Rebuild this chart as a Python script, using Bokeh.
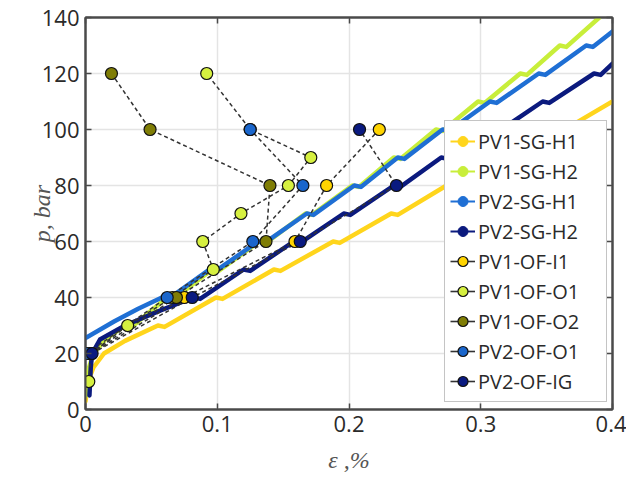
from bokeh.plotting import figure
from bokeh.models import LinearAxis, Range1d, FixedTicker, Legend, LegendItem
from bokeh.embed import file_html
from bokeh.resources import INLINE

# ---------------- data ----------------
X_TICKS = [0, 0.1, 0.2, 0.3, 0.4]
X_TICK_LABELS = ["0", "0.1", "0.2", "0.3", "0.4"]
Y_TICKS = [0, 20, 40, 60, 80, 100, 120, 140]

# strain-gauge curves (strain %, pressure bar)
pv1_sg_h1_strain = [0.000, 0.002, 0.006, 0.014, 0.030, 0.055, 0.060, 0.099, 0.104, 0.143, 0.148,
                    0.188, 0.193, 0.232, 0.237, 0.274, 0.279, 0.316, 0.321, 0.357, 0.362, 0.400]
pv1_sg_h1_p = [3, 10, 15, 20, 24.5, 30, 29.5, 40, 39.5, 50, 49.5,
               60, 59.5, 70, 69.5, 80, 79.5, 90, 89.5, 100, 99.5, 110]

pv1_sg_h2_strain = [0.001, 0.002, 0.006, 0.015, 0.030, 0.035, 0.062, 0.067, 0.096, 0.101, 0.132, 0.137,
                    0.167, 0.172, 0.2025, 0.2075, 0.234, 0.239, 0.266, 0.271, 0.298, 0.303, 0.330,
                    0.335, 0.360, 0.365, 0.390]
pv1_sg_h2_p = [5, 14, 20, 25, 30, 29.5, 40, 39.5, 50, 49.5, 60, 59.5,
               70, 69.5, 80, 79.5, 90, 89.5, 100, 99.5, 110, 109.5, 120,
               119.5, 130, 129.5, 140]

pv2_sg_h1_strain = [0.000, 0.022, 0.040, 0.058, 0.063, 0.094, 0.099, 0.131, 0.136, 0.168, 0.173,
                    0.204, 0.209, 0.237, 0.242, 0.271, 0.276, 0.307, 0.312, 0.344, 0.349,
                    0.380, 0.385, 0.400]
pv2_sg_h1_p = [25.5, 31.5, 36, 40, 39.5, 50, 49.5, 60, 59.5, 70, 69.5,
               80, 79.5, 90, 89.5, 100, 99.5, 110, 109.5, 120, 119.5,
               130, 129.5, 135]

pv2_sg_h2_strain = [0.003, 0.004, 0.005, 0.011, 0.030, 0.057, 0.082, 0.087, 0.120, 0.125, 0.158,
                    0.163, 0.196, 0.201, 0.234, 0.239, 0.270, 0.275, 0.309, 0.314, 0.347,
                    0.352, 0.386, 0.391, 0.400]
pv2_sg_h2_p = [5, 15, 20, 25, 30, 35.4, 40, 39.5, 50, 49.5, 60,
               59.5, 70, 69.5, 80, 79.5, 90, 89.5, 100, 99.5, 110,
               109.5, 120, 119.5, 123.5]

# optical-fibre points
pv1_of_i1_strain = [0.004, 0.075, 0.159, 0.183, 0.223]
pv1_of_i1_p = [20, 40, 60, 80, 100]

pv1_of_o1_strain = [0.0025, 0.004, 0.032, 0.066, 0.097, 0.089, 0.118, 0.154, 0.171, 0.125, 0.092]
pv1_of_o1_p = [10, 20, 30, 40, 50, 60, 70, 80, 90, 100, 120]

pv1_of_o2_strain = [0.003, 0.069, 0.137, 0.140, 0.049, 0.0197]
pv1_of_o2_p = [20, 40, 60, 80, 100, 120]

pv2_of_o1_strain = [0.001, 0.062, 0.127, 0.165, 0.125]
pv2_of_o1_p = [20, 40, 60, 80, 100]

pv2_of_ig_strain = [0.005, 0.081, 0.163, 0.236, 0.208]
pv2_of_ig_p = [20, 40, 60, 80, 100]

C_YELLOW = "#FFD51C"
C_LIME = "#C8EE3A"
C_BLUE = "#1F6FD4"
C_NAVY = "#0B1A7E"
C_OLIVE = "#7F7D05"

sg_series = [
    ("PV1-SG-H1", pv1_sg_h1_strain, pv1_sg_h1_p, C_YELLOW),
    ("PV1-SG-H2", pv1_sg_h2_strain, pv1_sg_h2_p, C_LIME),
    ("PV2-SG-H1", pv2_sg_h1_strain, pv2_sg_h1_p, C_BLUE),
    ("PV2-SG-H2", pv2_sg_h2_strain, pv2_sg_h2_p, C_NAVY),
]
of_series = [
    ("PV1-OF-I1", pv1_of_i1_strain, pv1_of_i1_p, "#FFD400"),
    ("PV1-OF-O1", pv1_of_o1_strain, pv1_of_o1_p, "#D6F040"),
    ("PV1-OF-O2", pv1_of_o2_strain, pv1_of_o2_p, C_OLIVE),
    ("PV2-OF-O1", pv2_of_o1_strain, pv2_of_o1_p, "#1A66CC"),
    ("PV2-OF-IG", pv2_of_ig_strain, pv2_of_ig_p, "#0A1A80"),
]

NAN = [float("nan")]

# ---------------- figure ----------------
p = figure(width=626, height=479, x_range=Range1d(0, 0.4), y_range=Range1d(0, 140),
           output_backend="svg", toolbar_location=None,
           min_border_left=85, min_border_right=14, min_border_top=17, min_border_bottom=70)
p.background_fill_color = "white"
p.border_fill_color = "white"
p.outline_line_color = "#4a4a4a"
p.outline_line_width = 2

FRAME = "#4a4a4a"
TICK_FONT = "Open Sans"

for ax in (p.xaxis[0], p.yaxis[0]):
    ax.axis_line_color = FRAME
    ax.axis_line_width = 2
    ax.major_tick_in = 6
    ax.major_tick_out = 0
    ax.major_tick_line_color = FRAME
    ax.major_tick_line_width = 1.5
    ax.minor_tick_line_color = None
    ax.major_label_text_font = TICK_FONT
    ax.major_label_text_font_size = "22px"
    ax.major_label_text_color = "#2a2a2a"
    ax.axis_label_text_font = "Liberation Serif"
    ax.axis_label_text_font_style = "italic"
    ax.axis_label_text_font_size = "24px"
    ax.axis_label_text_color = "#555555"

p.xaxis[0].ticker = FixedTicker(ticks=X_TICKS)
p.xaxis[0].major_label_overrides = dict(zip(X_TICKS, X_TICK_LABELS))
p.xaxis[0].major_label_standoff = 6
p.xaxis[0].axis_label = "ε ,%"
p.xaxis[0].axis_label_standoff = 12
p.yaxis[0].ticker = FixedTicker(ticks=Y_TICKS)
p.yaxis[0].major_label_standoff = 6
p.yaxis[0].axis_label = "p, bar"
p.yaxis[0].axis_label_standoff = -16

for loc, ticks in (("right", Y_TICKS), ("above", X_TICKS)):
    ax = LinearAxis(ticker=FixedTicker(ticks=ticks),
                    major_label_overrides={t: "" for t in ticks},
                    major_tick_in=6, major_tick_out=0, minor_tick_line_color=None,
                    major_tick_line_color=FRAME, major_tick_line_width=1.5,
                    axis_line_color=FRAME, axis_line_width=2, major_label_standoff=0)
    p.add_layout(ax, loc)

p.xgrid.ticker = FixedTicker(ticks=X_TICKS)
p.ygrid.ticker = FixedTicker(ticks=Y_TICKS)
p.grid.grid_line_color = "#e4e4e4"
p.grid.grid_line_width = 1.5

# strain-gauge curves
for name, xs, ys, col in sg_series:
    p.line(xs, ys, line_color=col, line_width=4.5, line_join="round", line_cap="round")

# dashed connecting lines for optical fibre data
for name, xs, ys, col in of_series:
    p.line(xs, ys, line_color="#333333", line_width=1.5, line_dash="4 3")

for name, xs, ys, col in of_series:
    p.scatter(xs, ys, marker="circle", size=12, fill_color=col, line_color="#111111", line_width=1.2)

# legend (proxy renderers carrying the legend look; NaN data draws nothing in the plot)
items = []
for name, xs, ys, col in sg_series:
    r1 = p.line(x=NAN, y=NAN, line_color=col, line_width=2)
    r2 = p.scatter(x=NAN, y=NAN, marker="circle", size=4, fill_color=col, line_color=col)
    items.append(LegendItem(label=name, renderers=[r1, r2]))
for name, xs, ys, col in of_series:
    r1 = p.line(x=NAN, y=NAN, line_color="#333333", line_width=1.6)
    r2 = p.scatter(x=NAN, y=NAN, marker="circle", size=12, fill_color=col, line_color="#111111", line_width=1.2)
    items.append(LegendItem(label=name, renderers=[r1, r2]))

legend = Legend(items=items, location=(359, 7), padding=5, margin=0, spacing=0,
                glyph_width=25, glyph_height=30, label_height=30, label_width=123,
                label_standoff=3, label_text_font=TICK_FONT, label_text_font_size="20px",
                label_text_color="#2a2a2a", border_line_color="#8a8a8a", border_line_width=1,
                background_fill_color="white", background_fill_alpha=1)
p.add_layout(legend)

open("out.html", "w").write(file_html(p, INLINE))
